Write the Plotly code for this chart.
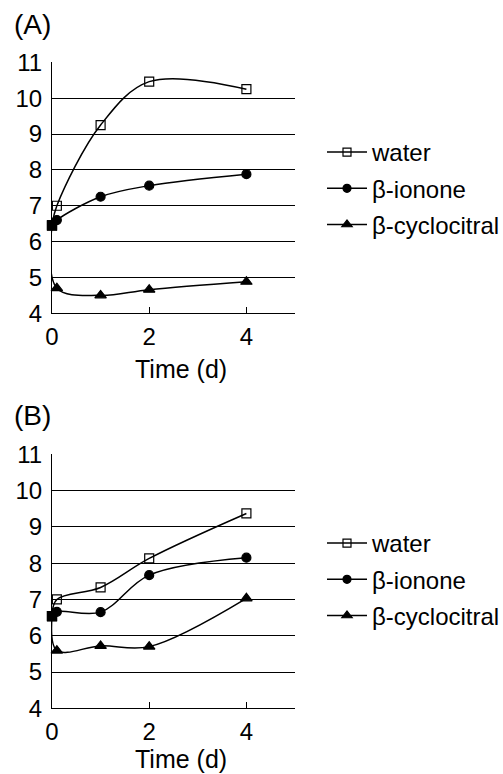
import plotly.graph_objects as go

# ---- data ----
time_A = [0, 0.1, 1, 2, 4]
water_A = [6.45, 7.0, 9.25, 10.46, 10.25]
ionone_A = [6.45, 6.6, 7.25, 7.56, 7.88]
cyclo_A = [6.45, 4.7, 4.5, 4.66, 4.88]

time_B = [0, 0.1, 1, 2, 4]
water_B = [6.54, 7.0, 7.33, 8.13, 9.37]
ionone_B = [6.54, 6.66, 6.65, 7.67, 8.15]
cyclo_B = [6.54, 5.59, 5.72, 5.70, 7.03]

series_names = ["water", "β-ionone", "β-cyclocitral"]
x_ticks = [0, 2, 4]
y_ticks = [4, 5, 6, 7, 8, 9, 10, 11]
panel_labels = ["(A)", "(B)"]
x_title = "Time (d)"

FONT = "Liberation Sans, Arial, sans-serif"
FS = 24
symbols = ["square-open", "circle", "triangle-up"]
sizes = [9, 9, 10]

fig = go.Figure()

panels = [
    (time_A, [water_A, ionone_A, cyclo_A], "x", "y", "legend"),
    (time_B, [water_B, ionone_B, cyclo_B], "x2", "y2", "legend2"),
]

for t, vals, xa, ya, leg in panels:
    for name, v, sym, sz in zip(series_names, vals, symbols, sizes):
        n = len(t)
        fig.add_trace(go.Scatter(
            x=t, y=v, mode="lines+markers", xaxis=xa, yaxis=ya,
            line=dict(color="black", width=1.5, shape="spline", smoothing=1),
            marker=dict(symbol=["square"] + [sym] * (n - 1),
                        size=[9] + [sz] * (n - 1), color="black", opacity=1,
                        line=dict(color="black", width=1.2)),
            cliponaxis=False, showlegend=False, hoverinfo="skip",
        ))
    for name, sym, sz in zip(series_names, symbols, sizes):
        fig.add_trace(go.Scatter(
            x=[None], y=[None], mode="lines+markers", xaxis=xa, yaxis=ya,
            name=name, legend=leg, legendgroup=leg + name,
            line=dict(color="black", width=1.5),
            marker=dict(symbol=sym, size=sz - 1, color="black", opacity=1,
                        line=dict(color="black", width=1.2)),
        ))

W, H = 503, 774
l = 52
plot_right = 295
r = W - plot_right
pw = W - l - r
axis_common = dict(
    showline=True, linecolor="black", linewidth=1.2,
    tickfont=dict(family=FONT, size=FS, color="black"),
    zeroline=False, automargin=False,
)
xcommon = dict(axis_common, range=[0, 5], tickvals=x_ticks, ticks="inside",
               ticklen=6, tickcolor="black", showgrid=False, ticklabelstandoff=2)
ycommon = dict(axis_common, range=[4, 11], tickvals=y_ticks, ticks="",
               showgrid=True, gridcolor="black", gridwidth=1,
               ticklabelstandoff=4)

leg_common = dict(xref="container", yref="container", xanchor="left", yanchor="top",
                  font=dict(family=FONT, size=FS, color="black"), itemwidth=40,
                  tracegroupgap=2, bgcolor="rgba(0,0,0,0)", borderwidth=0)
fig.update_layout(
    width=W, height=H,
    margin=dict(l=l, r=r, t=0, b=0, autoexpand=False),
    paper_bgcolor="white", plot_bgcolor="white",
    font=dict(family=FONT, size=FS, color="black"),
    xaxis=dict(xcommon, domain=[0, 1], anchor="y"),
    yaxis=dict(ycommon, domain=[1 - 313.3 / H, 1 - 62.3 / H], anchor="x"),
    xaxis2=dict(xcommon, domain=[0, 1], anchor="y2"),
    yaxis2=dict(ycommon, domain=[1 - 708.3 / H, 1 - 454.3 / H], anchor="x2"),
    legend=dict(leg_common, x=322 / W, y=1 - 130 / H),
    legend2=dict(leg_common, x=322 / W, y=1 - 521 / H),
    showlegend=True,
)

for lab, yc in zip(panel_labels, [25, 415]):
    fig.add_annotation(text=lab, xref="paper", yref="paper",
                       x=(12 - l) / pw, y=1 - yc / H,
                       xanchor="left", yanchor="middle", showarrow=False,
                       font=dict(family=FONT, size=28, color="black"))

for yc in [369, 759]:
    fig.add_annotation(text=x_title, xref="paper", yref="paper",
                       x=(181 - l) / pw, y=1 - yc / H,
                       xanchor="center", yanchor="middle", showarrow=False,
                       font=dict(family=FONT, size=25, color="black"))

# remove the page's default body margin so the figure fills the window exactly
fig.write_html("out.html", config={"displayModeBar": False},
               post_script="document.body.style.margin='0';document.body.style.overflow='hidden';")
